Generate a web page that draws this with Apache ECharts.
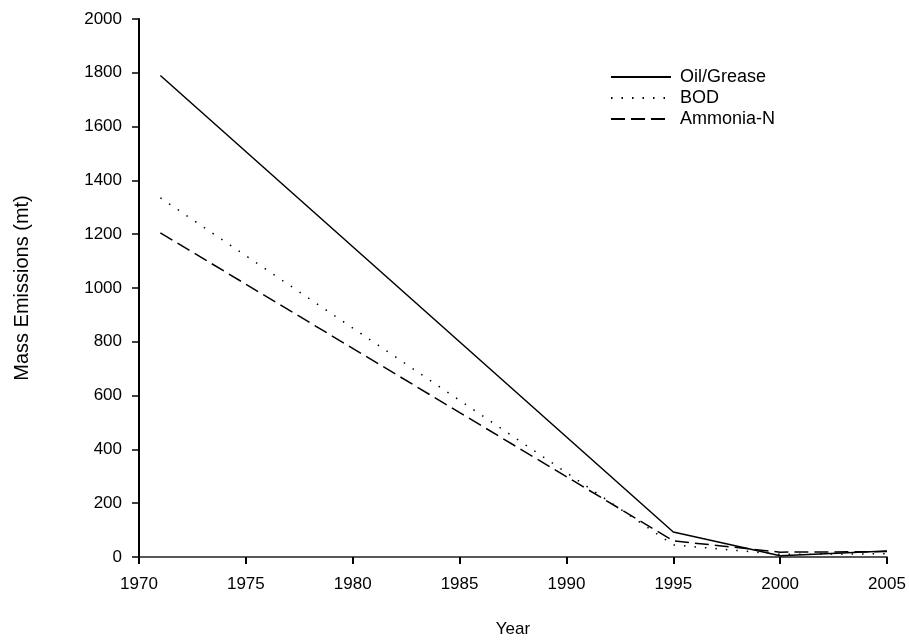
<!DOCTYPE html>
<html>
<head>
<meta charset="utf-8">
<script src="https://cdn.jsdelivr.net/npm/echarts@6/dist/echarts.min.js"></script>
<style>
  html, body { margin: 0; padding: 0; background: #fff; }
  #main { width: 909px; height: 641px; }
</style>
</head>
<body>
<div id="main"></div>
<script>
// data
const years = [1971, 1995, 2000, 2005]
const oilGrease = [1790, 93, 5, 22]
const bod = [1335, 45, 10, 12]
const ammonia = [1205, 60, 18, 20]

const font = 'Liberation Sans, Arial, sans-serif'

function pairs(ys) {
  return years.map((x, i) => [x, ys[i]])
}

const myChart = echarts.init(document.getElementById('main'))

myChart.setOption({
  animation: false,
  backgroundColor: '#fff',
  grid: { left: 139, right: 22, top: 19, bottom: 84, containLabel: false, outerBoundsMode: 'none' },
  legend: {
    orient: 'vertical',
    left: 605,
    top: 63,
    itemWidth: 60,
    itemHeight: 12,
    itemGap: 3,
    itemStyle: { opacity: 0 },
    textStyle: { fontFamily: font, fontSize: 18, color: '#000', padding: [0, 0, 0, 4] },
    data: ['Oil/Grease', 'BOD', 'Ammonia-N']
  },
  xAxis: {
    type: 'value',
    min: 1970,
    max: 2005,
    interval: 5,
    name: 'Year',
    nameLocation: 'middle',
    nameGap: 64,
    nameTextStyle: { fontFamily: font, fontSize: 17, color: '#000' },
    axisLine: { lineStyle: { color: '#222', width: 1.5 } },
    axisTick: { length: 7, lineStyle: { color: '#000', width: 2 } },
    axisLabel: { fontFamily: font, fontSize: 17, color: '#000', margin: 19, formatter: v => String(v) },
    splitLine: { show: false }
  },
  yAxis: {
    type: 'value',
    min: 0,
    max: 2000,
    interval: 200,
    name: 'Mass Emissions (mt)',
    nameLocation: 'middle',
    nameGap: 107,
    nameTextStyle: { fontFamily: font, fontSize: 20, color: '#000' },
    axisLine: { show: true, lineStyle: { color: '#000', width: 2 } },
    axisTick: { show: true, length: 7, lineStyle: { color: '#000', width: 1.5 } },
    axisLabel: { fontFamily: font, fontSize: 17, color: '#000', margin: 17, formatter: v => String(v) },
    splitLine: { show: false }
  },
  series: [
    {
      name: 'Oil/Grease',
      type: 'line',
      symbol: 'none',
      data: pairs(oilGrease),
      lineStyle: { color: '#000', width: 1.5, type: 'solid' },
      itemStyle: { color: '#000' }
    },
    {
      name: 'BOD',
      type: 'line',
      symbol: 'none',
      data: pairs(bod),
      lineStyle: { color: '#000', width: 1.5, type: [1.5, 9] },
      itemStyle: { color: '#000' }
    },
    {
      name: 'Ammonia-N',
      type: 'line',
      symbol: 'none',
      data: pairs(ammonia),
      lineStyle: { color: '#000', width: 1.5, type: [14, 6] },
      itemStyle: { color: '#000' }
    }
  ]
})
</script>
</body>
</html>
